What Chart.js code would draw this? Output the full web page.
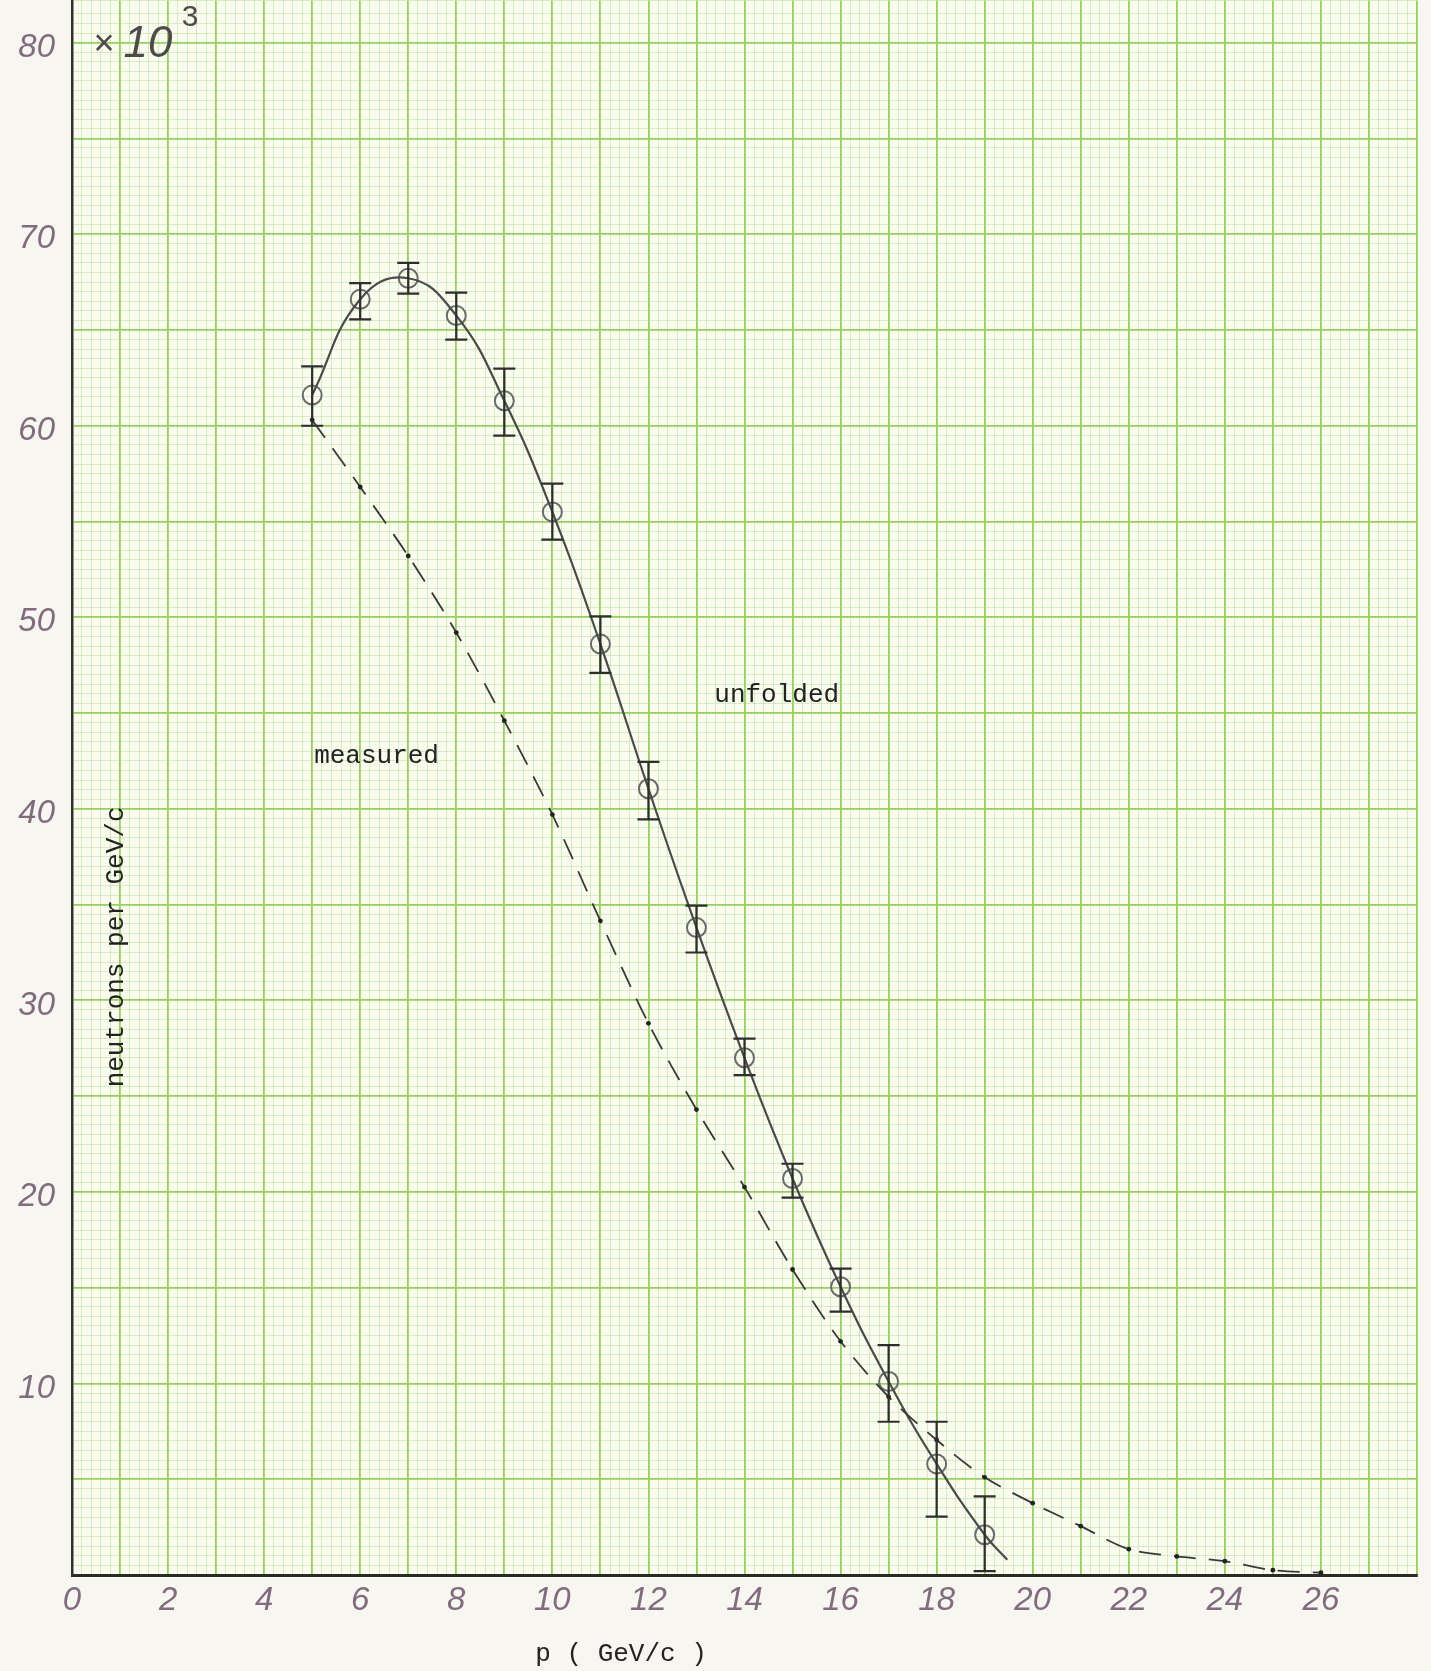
<!DOCTYPE html>
<html>
<head>
<meta charset="utf-8">
<script src="https://cdn.jsdelivr.net/npm/chart.js@4.4.1/dist/chart.umd.min.js"></script>
<style>
html,body{margin:0;padding:0;background:#f7f6f1;overflow:hidden;}
canvas{display:block;margin-top:-11px;}
</style>
</head>
<body>
<canvas id="c" width="1431" height="1682"></canvas>
<script>
// ---- data ----
const unfoldedP   = [5, 6, 7, 8, 9, 10, 11, 12, 13, 14, 15, 16, 17, 18, 19];
const unfoldedN   = [61.6, 66.6, 67.7, 65.75, 61.3, 55.5, 48.6, 41.05, 33.8, 27.0, 20.7, 15.05, 10.1, 5.8, 2.1];
const unfoldedHi  = [63.1, 67.45, 68.5, 66.95, 62.98, 56.98, 50.05, 42.45, 34.95, 28.0, 21.47, 16.0, 12.0, 8.0, 4.1];
const unfoldedLo  = [60.0, 65.55, 66.9, 64.5, 59.48, 54.05, 47.1, 39.45, 32.5, 26.1, 19.7, 13.75, 8.0, 3.05, 0.2];
const curveEndP   = [19.47];
const curveEndN   = [0.8];
const measuredP   = [5, 6, 7, 8, 9, 10, 11, 12, 13, 14, 15, 16, 17, 18, 19, 20, 21, 22, 23, 24, 25, 26];
const measuredN   = [60.3, 56.8, 53.2, 49.2, 44.6, 39.7, 34.15, 28.8, 24.3, 20.25, 15.95, 12.2, 9.3, 7.05, 5.1, 3.75, 2.55, 1.35, 0.97, 0.72, 0.25, 0.12];
const xTickLabels = [0, 2, 4, 6, 8, 10, 12, 14, 16, 18, 20, 22, 24, 26];
const yTickLabels = [10, 20, 30, 40, 50, 60, 70, 80];
const xRange = [0, 28];
const yRange = [0, 82.2];

// ---- styling ----
const BRIGHT = 'rgb(148,211,88)';
const FINE   = 'rgba(168,214,128,0.42)';
const HAND   = 'rgb(128,108,124)';
const INK    = '#222222';

const xs = (p, n) => p.map((v, i) => ({x: v, y: n[i]}));

const paper = {
  id: 'paper',
  beforeDraw(chart) {
    const {ctx, chartArea: a} = chart;
    ctx.save();
    ctx.fillStyle = '#f7f6f1';
    ctx.fillRect(0, 0, chart.width, chart.height);
    ctx.fillStyle = '#fbfcf0';
    ctx.fillRect(a.left, a.top, a.right - a.left, a.bottom - a.top);
    ctx.restore();
  }
};

const errorBars = {
  id: 'errorBars',
  afterDatasetsDraw(chart) {
    const {ctx} = chart, X = chart.scales.x, Y = chart.scales.y;
    ctx.save();
    ctx.strokeStyle = '#2e2e2e';
    ctx.lineWidth = 2.2;
    unfoldedP.forEach((p, i) => {
      const x = X.getPixelForValue(p);
      const y1 = Y.getPixelForValue(unfoldedHi[i]);
      const y2 = Y.getPixelForValue(unfoldedLo[i]);
      ctx.beginPath();
      ctx.moveTo(x, y1); ctx.lineTo(x, y2);
      ctx.moveTo(x - 11, y1); ctx.lineTo(x + 11, y1);
      ctx.moveTo(x - 11, y2); ctx.lineTo(x + 11, y2);
      ctx.stroke();
    });
    ctx.restore();
  }
};

const texts = {
  id: 'texts',
  afterDraw(chart) {
    const {ctx} = chart, X = chart.scales.x, Y = chart.scales.y;
    ctx.save();
    // x10^3 (handwritten)
    const ax = X.getPixelForValue(0), ay = Y.getPixelForValue(80);
    ctx.fillStyle = '#4e4a4c';
    ctx.textAlign = 'center';
    ctx.textBaseline = 'middle';
    ctx.font = '36px "Liberation Sans"';
    ctx.fillText('\u00d7', ax + 32, ay + 2);
    ctx.font = 'italic 44px "Liberation Sans"';
    ctx.fillText('10', ax + 76, ay + 2);
    ctx.font = '30px "Liberation Sans"';
    ctx.fillText('3', ax + 118, ay - 25);

    // typed labels
    ctx.fillStyle = INK;
    ctx.font = '26px "Liberation Mono"';
    ctx.textBaseline = 'alphabetic';
    ctx.fillText('unfolded', X.getPixelForValue(14.67), Y.getPixelForValue(45.56));
    ctx.fillText('measured', X.getPixelForValue(6.34), Y.getPixelForValue(42.38));
    ctx.fillText('p ( GeV/c )', X.getPixelForValue(11.43), chart.chartArea.bottom + 86);

    ctx.save();
    ctx.translate(X.getPixelForValue(1.06), Y.getPixelForValue(32.79));
    ctx.rotate(-Math.PI / 2);
    ctx.fillText('neutrons per GeV/c', 0, 0);
    ctx.restore();
    ctx.restore();
  }
};

const k5 = v => Math.round(v * 5);
const k2 = v => Math.round(v * 2);

new Chart(document.getElementById('c'), {
  type: 'scatter',
  data: {
    datasets: [
      {
        label: 'measured',
        data: xs(measuredP, measuredN),
        showLine: true,
        borderColor: '#383838',
        borderWidth: 1.8,
        borderDash: [22, 13],
        tension: 0.3,
        pointRadius: 2.4,
        pointBackgroundColor: '#222',
        pointBorderWidth: 0
      },
      {
        label: 'unfolded curve',
        data: xs(unfoldedP.concat(curveEndP), unfoldedN.concat(curveEndN)),
        showLine: true,
        borderColor: '#4a4a4a',
        borderWidth: 2.2,
        tension: 0.45,
        pointRadius: 0
      },
      {
        label: 'unfolded',
        data: xs(unfoldedP, unfoldedN),
        showLine: false,
        pointRadius: 9.5,
        pointHoverRadius: 9.5,
        pointBorderColor: '#6a6a6a',
        pointBorderWidth: 2,
        pointBackgroundColor: 'rgba(0,0,0,0)'
      }
    ]
  },
  options: {
    responsive: false,
    devicePixelRatio: 1,
    animation: false,
    events: [],
    layout: {padding: {top: 0, right: 14, bottom: 0, left: 0}},
    plugins: {legend: {display: false}, tooltip: {enabled: false}},
    scales: {
      x: {
        type: 'linear',
        min: xRange[0], max: xRange[1],
        afterFit(s) { s.height = 96; s.paddingLeft = 0; s.paddingRight = 0; },
        border: {display: true, color: '#2a2b22', width: 3},
        grid: {
          drawTicks: false,
          color: c => (k5(c.tick.value) % 5 === 0 ? BRIGHT : FINE),
          lineWidth: c => (k5(c.tick.value) % 5 === 0 ? 1.8 : 1)
        },
        ticks: {
          stepSize: 0.2,
          autoSkip: false,
          maxTicksLimit: 1000,
          maxRotation: 0,
          padding: 6,
          color: HAND,
          font: {family: 'Liberation Sans', style: 'italic', size: 33},
          callback: v => {
            const r = k5(v) / 5;
            return (Math.abs(r - Math.round(r)) < 1e-6 && xTickLabels.includes(Math.round(r))) ? String(Math.round(r)) : '';
          }
        }
      },
      y: {
        type: 'linear',
        min: yRange[0], max: yRange[1],
        afterFit(s) { s.width = 72; s.paddingTop = 0; s.paddingBottom = 0; },
        border: {display: true, color: '#2f3326', width: 2.5},
        grid: {
          drawTicks: false,
          color: c => (k2(c.tick.value) % 10 === 0 ? BRIGHT : FINE),
          lineWidth: c => (k2(c.tick.value) % 10 === 0 ? 1.8 : 1)
        },
        ticks: {
          stepSize: 0.5,
          autoSkip: false,
          maxTicksLimit: 1000,
          padding: 17,
          labelOffset: 5,
          color: HAND,
          font: {family: 'Liberation Sans', style: 'italic', size: 33},
          callback: v => {
            const r = k2(v) / 2;
            return (Math.abs(r - Math.round(r)) < 1e-6 && yTickLabels.includes(Math.round(r))) ? String(Math.round(r)) : '';
          }
        }
      }
    }
  },
  plugins: [paper, errorBars, texts]
});
</script>
</body>
</html>
